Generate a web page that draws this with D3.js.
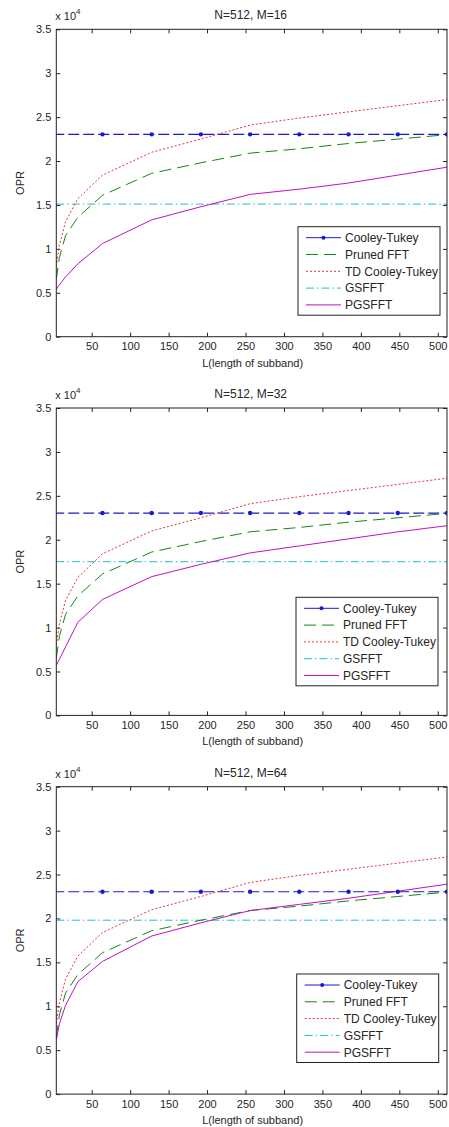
<!DOCTYPE html>
<html>
<head>
<meta charset="utf-8">
<script src="https://cdn.jsdelivr.net/npm/d3@7"></script>
<style>
  body { margin: 0; background: #fff; }
  text { font-family: "Liberation Sans", Arial, sans-serif; fill: #262626; }
</style>
</head>
<body>
<div id="chart-area"></div>
<script>
  // subband lengths used by the curves
  var subbandL = [4, 8, 16, 32, 64, 128, 192, 256, 320, 384, 448, 512];
  // Cooley-Tukey is drawn with markers every 64
  var ctL = [0, 64, 128, 192, 256, 320, 384, 448, 512];
  var ctOPR = [23040, 23040, 23040, 23040, 23040, 23040, 23040, 23040, 23040];
  var prunedOPR = [6500, 9000, 11500, 13600, 16100, 18600, 19800, 20900, 21400, 22000, 22500, 23000];
  var tdOPR = [8000, 10400, 13100, 15700, 18400, 21000, 22500, 24100, 24900, 25600, 26300, 27000];

  var panelM = [16, 32, 64];
  var gsfftOPR = [15100, 17500, 19800];
  var pgsfftOPR = [
    [5400, 5900, 6800, 8300, 10600, 13300, 14800, 16200, 16800, 17500, 18400, 19300],
    [5700, 6400, 7800, 10600, 13200, 15800, 17200, 18500, 19300, 20100, 20900, 21600],
    [6100, 8000, 10100, 12800, 15100, 18000, 19500, 20900, 21600, 22300, 23100, 23900]
  ];

  var xTicks = [50, 100, 150, 200, 250, 300, 350, 400, 450, 500];
  var yTicks = [0, 5000, 10000, 15000, 20000, 25000, 30000, 35000];
  var legendNames = ['Cooley-Tukey', 'Pruned FFT', 'TD Cooley-Tukey', 'GSFFT', 'PGSFFT'];

  // layout
  var W = 449, H = 1127;
  var left = 56.3, right = 447, plotH = 307.4;
  var panelTop = [29.3, 408, 786.7];
  var legendLeft = [298, 296, 296.7];
  var legendOff = [197.4, 189.3, 187.3];

  var styles = {
    ct:     { color: '#1a1acc', dash: '11,4' },
    pruned: { color: '#118811', dash: '12,6' },
    td:     { color: '#e8303a', dash: '2,2' },
    gs:     { color: '#20c0c8', dash: '8,3,1.5,3' },
    pg:     { color: '#c010c0', dash: null }
  };

  var svg = d3.select('#chart-area').append('svg')
      .attr('width', W).attr('height', H);

  var x = d3.scaleLinear().domain([4, 512]).range([0, right - left]);
  var y = d3.scaleLinear().domain([0, 35000]).range([plotH, 0]);
  var line = d3.line()
      .x(function(d) { return x(d[0]); })
      .y(function(d) { return y(d[1]); });

  function pairs(xs, ys) { return xs.map(function(v, i) { return [v, ys[i]]; }); }

  function drawPanel(p) {
    var g = svg.append('g').attr('transform', 'translate(' + left + ',' + panelTop[p] + ')');
    var w = right - left;

    g.append('clipPath').attr('id', 'clip' + p)
      .append('rect').attr('width', w).attr('height', plotH);

    // axes with inward ticks on all four sides
    var fmt = function(d) { return String(d / 10000); };
    var xb = g.append('g').attr('transform', 'translate(0,' + plotH + ')')
      .call(d3.axisBottom(x).tickValues(xTicks).tickSizeInner(-4).tickSizeOuter(0).tickPadding(6));
    var xt = g.append('g')
      .call(d3.axisTop(x).tickValues(xTicks).tickSizeInner(-4).tickSizeOuter(0).tickFormat(''));
    var yl = g.append('g')
      .call(d3.axisLeft(y).tickValues(yTicks).tickSizeInner(-4).tickSizeOuter(0).tickPadding(5).tickFormat(fmt));
    var yr = g.append('g').attr('transform', 'translate(' + w + ',0)')
      .call(d3.axisRight(y).tickValues(yTicks).tickSizeInner(-4).tickSizeOuter(0).tickFormat(''));
    [xb, xt, yl, yr].forEach(function(a) {
      a.select('.domain').remove();
      a.selectAll('line').attr('stroke', '#222');
      a.selectAll('text').attr('font-size', '11px').attr('fill', '#262626')
        .attr('font-family', '"Liberation Sans", Arial, sans-serif');
    });

    var plot = g.append('g').attr('clip-path', 'url(#clip' + p + ')');

    plot.append('path').attr('fill', 'none')
      .attr('stroke', styles.gs.color).attr('stroke-width', 1)
      .attr('stroke-dasharray', styles.gs.dash)
      .attr('d', line([[4, gsfftOPR[p]], [512, gsfftOPR[p]]]));
    plot.append('path').attr('fill', 'none')
      .attr('stroke', styles.pruned.color).attr('stroke-width', 1)
      .attr('stroke-dasharray', styles.pruned.dash)
      .attr('d', line(pairs(subbandL, prunedOPR)));
    plot.append('path').attr('fill', 'none')
      .attr('stroke', styles.td.color).attr('stroke-width', 1)
      .attr('stroke-dasharray', styles.td.dash)
      .attr('d', line(pairs(subbandL, tdOPR)));
    plot.append('path').attr('fill', 'none')
      .attr('stroke', styles.pg.color).attr('stroke-width', 1)
      .attr('d', line(pairs(subbandL, pgsfftOPR[p])));
    plot.append('path').attr('fill', 'none')
      .attr('stroke', styles.ct.color).attr('stroke-width', 1.2)
      .attr('stroke-dasharray', styles.ct.dash)
      .attr('d', line(pairs(ctL, ctOPR)));
    plot.selectAll('.ctdot').data(pairs(ctL, ctOPR)).enter().append('circle')
      .attr('class', 'ctdot')
      .attr('cx', function(d) { return x(d[0]); })
      .attr('cy', function(d) { return y(d[1]); })
      .attr('r', 2.2).attr('fill', styles.ct.color);

    // axes box
    g.append('rect').attr('width', w).attr('height', plotH)
      .attr('fill', 'none').attr('stroke', '#222').attr('stroke-width', 1);

    // texts
    g.append('text').attr('x', w / 2 - 1).attr('y', -10)
      .attr('text-anchor', 'middle').attr('font-size', '12px')
      .text('N=512, M=' + panelM[p]);
    var ex = g.append('text').attr('x', -1).attr('y', -9).attr('font-size', '11px');
    ex.append('tspan').text('x 10');
    ex.append('tspan').attr('dy', -6).attr('font-size', '8px').text('4');
    g.append('text').attr('transform', 'translate(' + (-32) + ',' + (plotH / 2) + ') rotate(-90)')
      .attr('text-anchor', 'middle').attr('font-size', '11px').text('OPR');
    g.append('text').attr('x', w / 2 + 1).attr('y', plotH + 30)
      .attr('text-anchor', 'middle').attr('font-size', '11px').text('L(length of subband)');

    // legend
    var lg = svg.append('g')
      .attr('transform', 'translate(' + legendLeft[p] + ',' + (panelTop[p] + legendOff[p]) + ')');
    lg.append('rect').attr('width', 142).attr('height', 88.5)
      .attr('fill', '#fff').attr('stroke', '#222').attr('stroke-width', 1);
    var keys = ['ct', 'pruned', 'td', 'gs', 'pg'];
    legendNames.forEach(function(name, i) {
      var row = lg.append('g').attr('transform', 'translate(0,' + (11 + i * 16.8) + ')');
      var st = styles[keys[i]];
      row.append('line').attr('x1', 8).attr('x2', 43).attr('y1', 0).attr('y2', 0)
        .attr('stroke', st.color).attr('stroke-width', 1)
        .attr('stroke-dasharray', keys[i] === 'ct' ? null : st.dash);
      if (keys[i] === 'ct') {
        row.append('circle').attr('cx', 25.5).attr('cy', 0).attr('r', 2).attr('fill', st.color);
      }
      row.append('text').attr('x', 47).attr('y', 0).attr('dy', '0.36em')
        .attr('font-size', '12px').text(name);
    });
  }

  panelM.forEach(function(m, p) { drawPanel(p); });
</script>
</body>
</html>
